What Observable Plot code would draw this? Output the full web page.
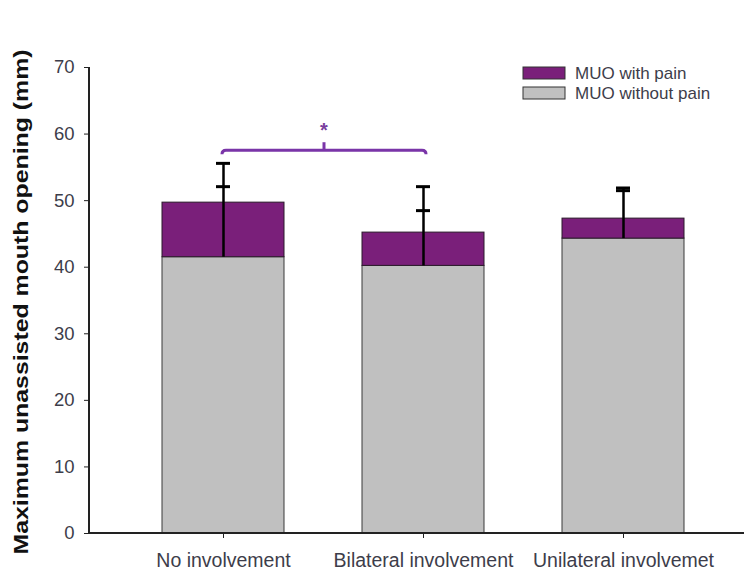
<!DOCTYPE html>
<html>
<head>
<meta charset="utf-8">
<script src="https://cdn.jsdelivr.net/npm/d3@7"></script>
<script src="https://cdn.jsdelivr.net/npm/@observablehq/plot@0.6"></script>
<style>
  html, body { margin: 0; padding: 0; background: #fff; }
  #chart svg { display: block; }
</style>
</head>
<body>
<div id="chart"></div>
<script>
// ---- data ----
const categories = ["No involvement", "Bilateral involvement", "Unilateral involvemet"];
const withoutPain = [41.5, 40.2, 44.3];        // MUO without pain (gray)
const withPain = [49.7, 45.2, 47.3];           // MUO with pain (total height)
const withoutPainSD = [10.6, 8.3, 7.2];        // error on without pain
const withPainSD = [5.9, 6.9, 4.6];            // error on with pain
const seriesNames = ["MUO with pain", "MUO without pain"];
const seriesColors = ["#7a1f7a", "#c0c0c0"];
const yTicks = [0, 10, 20, 30, 40, 50, 60, 70];
const yLabel = "Maximum unassisted mouth opening (mm)";
const significance = {from: categories[0], to: categories[1], y: 57.5, label: "*"};

const rows = categories.map((c, i) => ({
  cat: c,
  without: withoutPain[i],
  total: withPain[i],
  capWithout: withoutPain[i] + withoutPainSD[i],
  capTotal: withPain[i] + withPainSD[i]
}));

const capInset = 54;
const font = "'Liberation Sans', Arial, sans-serif";

const chart = Plot.plot({
  width: 744,
  height: 572,
  marginLeft: 89,
  marginRight: 0,
  marginTop: 67,
  marginBottom: 39,
  style: {background: "#fff", fontFamily: font},
  x: {domain: categories, range: [123, 723], paddingInner: 0.39, paddingOuter: 0.195},
  y: {domain: [0, 70]},
  marks: [
    Plot.barY(rows, {x: "cat", y1: 0, y2: "without", fill: seriesColors[1], stroke: "#3a3a3a", strokeWidth: 1}),
    Plot.barY(rows, {x: "cat", y1: "without", y2: "total", fill: seriesColors[0], stroke: "#2a1a2a", strokeWidth: 1}),
    Plot.ruleX(rows, {x: "cat", y1: "without", y2: d => Math.max(d.capWithout, d.capTotal), stroke: "#000", strokeWidth: 2.5}),
    Plot.tickY(rows, {x: "cat", y: "capWithout", stroke: "#000", strokeWidth: 3, insetLeft: capInset, insetRight: capInset}),
    Plot.tickY(rows, {x: "cat", y: "capTotal", stroke: "#000", strokeWidth: 3, insetLeft: capInset, insetRight: capInset}),
    Plot.axisY({ticks: yTicks, tickSize: 5, tickPadding: 10, fontSize: 18.5, color: "#3d3d4a", label: null, stroke: "#222"}),
    Plot.axisX({tickSize: 5, tickPadding: 15, fontSize: 19.5, color: "#3d3d4a", label: null, stroke: "#222"}),
    // axis lines, bracket, y title, legend
    (index, scales, values, dims) => {
      const sx = scales.x, sy = scales.y;
      const bw = typeof sx.bandwidth === "function" ? sx.bandwidth() : (sx.bandwidth ?? 0);
      const g = d3.create("svg:g");
      // y axis line
      g.append("line")
        .attr("x1", dims.marginLeft).attr("x2", dims.marginLeft)
        .attr("y1", sy(70)).attr("y2", sy(0))
        .attr("stroke", "#222").attr("stroke-width", 2);
      // x axis line
      g.append("line")
        .attr("x1", dims.marginLeft - 1).attr("x2", dims.width - dims.marginRight)
        .attr("y1", sy(0)).attr("y2", sy(0))
        .attr("stroke", "#222").attr("stroke-width", 2);
      // significance bracket
      const xa = sx(significance.from) + bw / 2 - 1;
      const xb = sx(significance.to) + bw / 2 + 3;
      const yb = sy(significance.y);
      const xm = (xa + xb) / 2;
      const r = 4;
      g.append("path")
        .attr("d", `M${xa},${yb + r} Q${xa},${yb} ${xa + r},${yb} L${xb - r},${yb} Q${xb},${yb} ${xb},${yb + r}`)
        .attr("fill", "none").attr("stroke", "#7a35a8").attr("stroke-width", 3);
      g.append("line")
        .attr("x1", xm).attr("x2", xm).attr("y1", yb).attr("y2", yb - 8)
        .attr("stroke", "#7a35a8").attr("stroke-width", 3);
      g.append("text")
        .attr("x", xm).attr("y", yb - 13)
        .attr("text-anchor", "middle")
        .attr("font-size", 20).attr("font-weight", "bold")
        .attr("fill", "#7a3f9e")
        .text(significance.label);
      // y axis title
      g.append("text")
        .attr("transform", `translate(21,302) rotate(-90)`)
        .attr("text-anchor", "middle")
        .attr("dominant-baseline", "central")
        .attr("font-size", 19.5).attr("font-weight", "bold")
        .attr("textLength", 505).attr("lengthAdjust", "spacingAndGlyphs")
        .attr("fill", "#111")
        .text(yLabel);
      // legend
      const lx = 523, ly = [67, 87];
      seriesNames.forEach((name, i) => {
        g.append("rect")
          .attr("x", lx).attr("y", ly[i]).attr("width", 42).attr("height", 12)
          .attr("fill", seriesColors[i]).attr("stroke", "#333").attr("stroke-width", 1);
        g.append("text")
          .attr("x", lx + 52).attr("y", ly[i] + 6)
          .attr("text-anchor", "start")
          .attr("dominant-baseline", "central")
          .attr("font-size", 17).attr("fill", "#3d3d4a")
          .text(name);
      });
      return g.node();
    }
  ]
});

document.getElementById("chart").appendChild(chart);
</script>
</body>
</html>
